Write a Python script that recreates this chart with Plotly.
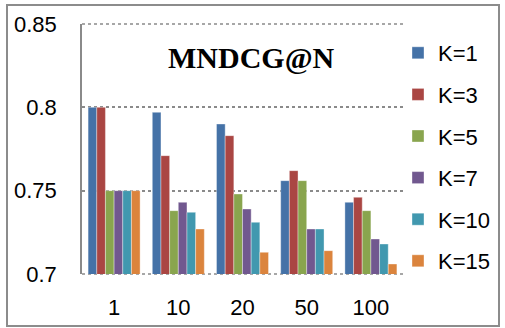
import plotly.graph_objects as go

# Cutoff values N on the x axis
categories = ["1", "10", "20", "50", "100"]

# MNDCG@N for each neighbourhood size K
series_names = ["K=1", "K=3", "K=5", "K=7", "K=10", "K=15"]
k1 = [0.800, 0.797, 0.790, 0.756, 0.743]
k3 = [0.800, 0.771, 0.783, 0.762, 0.746]
k5 = [0.750, 0.738, 0.748, 0.756, 0.738]
k7 = [0.750, 0.743, 0.739, 0.727, 0.721]
k10 = [0.750, 0.737, 0.731, 0.727, 0.718]
k15 = [0.750, 0.727, 0.713, 0.714, 0.706]
series_values = [k1, k3, k5, k7, k10, k15]

y_ticks = [0.7, 0.75, 0.8, 0.85]
y_tick_labels = ["0.7", "0.75", "0.8", "0.85"]

colors = ["#4572A7", "#AA4643", "#89A54E", "#71588F", "#4198AF", "#DB843D"]

W, H = 505, 328
L, R, T, B = 82, 102, 24, 54
pw, ph = W - L - R, H - T - B


def px_x(p):
    return (p - L) / pw


def px_y(p):
    return (H - B - p) / ph


fig = go.Figure()
for i, (name, vals) in enumerate(zip(series_names, series_values)):
    fig.add_trace(go.Bar(
        x=categories, y=vals, name=name, legendgroup=name,
        marker=dict(color=colors[i], line=dict(color="rgba(255,255,255,0.45)", width=0.8)),
    ))

font_sans = "Liberation Sans"
grid_col = "#8a8a8a"

fig.update_layout(
    width=W, height=H,
    margin=dict(l=L, r=R, t=T, b=B, autoexpand=False),
    paper_bgcolor="white", plot_bgcolor="white",
    barmode="group", bargap=0.19, bargroupgap=0,
    font=dict(family=font_sans, size=22, color="black"),
    showlegend=True,
    legend=dict(
        x=px_x(398), y=px_y(32), xanchor="left", yanchor="top",
        font=dict(family=font_sans, size=22, color="black"),
        tracegroupgap=10, itemwidth=30, bgcolor="rgba(0,0,0,0)",
        maxheight=320,
    ),
    xaxis=dict(
        type="category", showgrid=False, showline=False, zeroline=False,
        ticks="", ticklabelstandoff=18,
        tickfont=dict(family=font_sans, size=22),
    ),
    yaxis=dict(
        range=[0.7, 0.85], tickvals=y_ticks, ticktext=y_tick_labels,
        showgrid=True, gridcolor=grid_col, gridwidth=1.5, griddash="dot",
        zeroline=False, showline=True, linecolor=grid_col, linewidth=1.5,
        ticks="", ticklabelstandoff=19,
        tickfont=dict(family=font_sans, size=22),
    ),
)

# dotted lines along the bottom and top edges of the plot area
for yv in (0, 1):
    fig.add_shape(type="line", xref="paper", yref="paper", x0=0, x1=1, y0=yv, y1=yv,
                  line=dict(color=grid_col, width=1.5, dash="dot"), layer="below")

# outer chart frame
fig.add_shape(type="rect", xref="paper", yref="paper",
              x0=px_x(7), x1=px_x(499), y0=px_y(326), y1=px_y(5),
              line=dict(color="#8c8c8c", width=2), fillcolor="rgba(0,0,0,0)")

fig.add_annotation(
    text="<b>MNDCG@N</b>", xref="paper", yref="paper",
    x=px_x(252), y=px_y(57), xanchor="center", yanchor="middle", showarrow=False,
    font=dict(family="Liberation Serif", size=30, color="black"),
)

fig.write_html("out.html")
